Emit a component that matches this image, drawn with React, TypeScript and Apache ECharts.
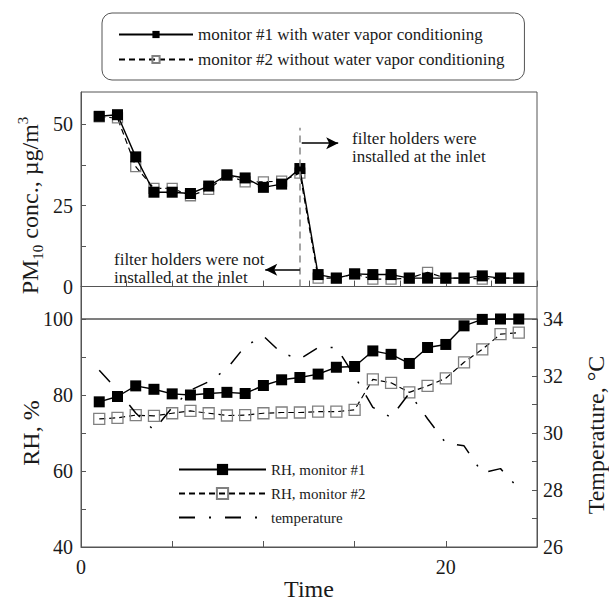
import React, { useEffect, useRef } from 'react';
import * as echarts from 'echarts';

const times = [1, 2, 3, 4, 5, 6, 7, 8, 9, 10, 11, 12, 13, 14, 15, 16, 17, 18, 19, 20, 21, 22, 23, 24];
const pmMonitor1 = [52.5, 53.0, 40.0, 29.1, 29.1, 28.7, 31.0, 34.4, 33.5, 30.6, 31.6, 36.4, 3.7, 2.6, 3.9, 3.7, 3.7, 2.6, 2.6, 2.6, 2.6, 3.3, 2.6, 2.6];
const pmMonitor2 = [52.3, 52.0, 37.0, 30.3, 30.3, 28.0, 30.0, 34.4, 32.3, 32.3, 32.5, 35.0, 2.6, 2.6, 3.9, 2.3, 2.3, 2.6, 4.4, 2.6, 2.6, 2.3, 2.6, 2.6];
const rhMonitor1 = [78.2, 79.6, 82.4, 81.5, 80.3, 80.0, 80.4, 80.7, 80.4, 82.5, 84.0, 84.6, 85.5, 87.3, 87.5, 91.6, 90.7, 88.3, 92.5, 93.3, 98.2, 99.9, 100, 100];
const rhMonitor2 = [73.7, 74.0, 74.7, 74.5, 75.2, 75.8, 75.2, 74.6, 74.7, 75.2, 75.4, 75.4, 75.6, 75.6, 76.1, 84.1, 83.2, 80.7, 82.4, 84.4, 88.6, 92.0, 96.0, 96.4];
const temperature = [32.2, 31.5, 30.7, 30.1, 30.9, 31.5, 31.8, 32.25, 33.05, 33.4, 32.8, 32.6, 33.0, 33.0, 32.0, 30.9, 30.55, 31.4, 30.5, 29.65, 29.55, 28.6, 28.75, 28.05];
const pmTickValues = [0, 12.5, 25, 37.5, 50];
const pmLabelValues = [0, 25, 50];
const filterChangeTime = 12;

const SERIF = '"Liberation Serif", "Times New Roman", serif';
const TXT = '#1a1a1a';
const AX = '#555';

const pairs = (ys: number[]) => times.map((t, i) => [t, ys[i]]);

export default function App() {
  const ref = useRef<HTMLDivElement>(null);
  useEffect(() => {
    if (!ref.current) return;
    const chart = echarts.init(ref.current, undefined, { renderer: 'svg', width: 609, height: 603 });
    const axisLine = { show: true, lineStyle: { color: AX, width: 1 } };
    const label = { color: TXT, fontFamily: SERIF, fontSize: 20 };
    const nameStyle = { color: TXT, fontFamily: SERIF, fontSize: 24 };
    const filled = { color: '#000', borderColor: '#000', borderWidth: 0 };
    const open = { color: 'transparent', borderColor: '#808080', borderWidth: 1.3 };
    chart.setOption({
      animation: false,
      backgroundColor: '#fff',
      grid: [
        { left: 81, top: 92, right: 72, bottom: 284, show: true, borderColor: AX, borderWidth: 1 },
        { left: 81, top: 319, right: 72, bottom: 56, show: true, borderColor: AX, borderWidth: 1 },
      ],
      legend: [
        {
          data: ['monitor #1 with water vapor conditioning', 'monitor #2 without water vapor conditioning'],
          orient: 'vertical',
          left: 102,
          top: 13,
          padding: [13, 20, 12, 16],
          itemWidth: 74,
          itemHeight: 9,
          itemGap: 8,
          borderColor: AX,
          borderWidth: 1,
          borderRadius: 10,
          textStyle: { color: TXT, fontFamily: SERIF, fontSize: 17 },
        },
        {
          data: [
            'RH, monitor #1',
            'RH, monitor #2',
            { name: 'temperature', itemStyle: { color: 'transparent', borderWidth: 0, opacity: 0 } },
          ],
          orient: 'vertical',
          left: 178,
          top: 462,
          padding: 0,
          itemWidth: 87,
          itemHeight: 14,
          itemGap: 9,
          textStyle: { color: TXT, fontFamily: SERIF, fontSize: 15 },
        },
      ],
      xAxis: [
        {
          gridIndex: 0, type: 'value', min: 0, max: 25, interval: 2.5,
          axisLine, axisTick: { show: true, inside: true, length: 6, lineStyle: { color: AX } },
          axisLabel: { show: false }, splitLine: { show: false },
        },
        {
          gridIndex: 1, type: 'value', min: 0, max: 25, interval: 5,
          axisLine, axisTick: { show: true, inside: true, length: 6, lineStyle: { color: AX } },
          axisLabel: { ...label, margin: 10, formatter: (v: number) => (v === 0 || v === 20 ? String(v) : '') },
          splitLine: { show: false },
        },
      ],
      yAxis: [
        {
          gridIndex: 0, type: 'value', min: -10, max: 60,
          axisLine,
          axisTick: { show: true, inside: true, length: 5, customValues: pmTickValues, lineStyle: { color: AX } },
          axisLabel: { ...label, margin: 8, customValues: pmLabelValues },
          splitLine: { show: false },
          name: '{a|PM}{sub|10}{a| conc., µg/m}{sup|3}',
          nameLocation: 'middle', nameGap: 36, nameMoveOverlap: false,
          nameTextStyle: {
            ...nameStyle,
            rich: {
              a: { fontFamily: SERIF, fontSize: 24, color: TXT, lineHeight: 30 },
              sub: { fontFamily: SERIF, fontSize: 15, color: TXT, lineHeight: 30, verticalAlign: 'bottom', padding: [10, 0, 0, 0] },
              sup: { fontFamily: SERIF, fontSize: 15, color: TXT, lineHeight: 30, verticalAlign: 'top', padding: [0, 0, 12, 0] },
            },
          },
        },
        {
          gridIndex: 1, type: 'value', min: 40, max: 100, interval: 10,
          axisLine,
          axisTick: { show: true, inside: true, length: 5, lineStyle: { color: AX } },
          axisLabel: { ...label, margin: 8, showMaxLabel: true, formatter: (v: number) => (v % 20 === 0 ? String(v) : '') },
          splitLine: { show: false },
          name: 'RH, %', nameLocation: 'middle', nameGap: 38, nameMoveOverlap: false, nameTextStyle: nameStyle,
        },
        {
          gridIndex: 1, type: 'value', min: 26, max: 34, interval: 1, position: 'right',
          axisLine,
          axisTick: { show: true, inside: true, length: 5, lineStyle: { color: AX } },
          axisLabel: { ...label, margin: 6, formatter: (v: number) => (v % 2 === 0 ? String(v) : '') },
          splitLine: { show: false },
        },
      ],
      series: [
        {
          name: 'monitor #2 without water vapor conditioning', type: 'line', xAxisIndex: 0, yAxisIndex: 0,
          data: pairs(pmMonitor2), symbol: 'rect', symbolSize: 10, showSymbol: true,
          itemStyle: open, lineStyle: { color: '#000', width: 1.2, type: [6, 4] }, z: 2,
        },
        {
          name: 'monitor #1 with water vapor conditioning', type: 'line', xAxisIndex: 0, yAxisIndex: 0,
          data: pairs(pmMonitor1), symbol: 'rect', symbolSize: 11, showSymbol: true,
          itemStyle: filled, lineStyle: { color: '#000', width: 1.4 }, z: 3,
          markLine: {
            silent: true,
            symbol: ['none', 'none'],
            label: { show: false },
            lineStyle: { color: '#888', width: 1.5, type: [7, 5] },
            data: [
              [{ coord: [filterChangeTime, 0] }, { coord: [filterChangeTime, 49] }],
              [
                { coord: [filterChangeTime + 0.1, 44.2], lineStyle: { color: '#000', width: 1.5, type: 'solid' } },
                { coord: [filterChangeTime + 2.1, 44.2], symbol: 'arrow', symbolSize: [9, 12] },
              ],
              [
                { coord: [filterChangeTime, 5.2], lineStyle: { color: '#000', width: 1.5, type: 'solid' } },
                { coord: [filterChangeTime - 1.9, 5.2], symbol: 'arrow', symbolSize: [9, 12] },
              ],
            ],
          },
        },
        {
          name: 'RH, monitor #2', type: 'line', xAxisIndex: 1, yAxisIndex: 1,
          data: pairs(rhMonitor2), symbol: 'rect', symbolSize: 11, showSymbol: true,
          itemStyle: open, lineStyle: { color: '#000', width: 1.2, type: [6, 4] }, z: 2,
        },
        {
          name: 'RH, monitor #1', type: 'line', xAxisIndex: 1, yAxisIndex: 1,
          data: pairs(rhMonitor1), symbol: 'rect', symbolSize: 11, showSymbol: true,
          itemStyle: filled, lineStyle: { color: '#000', width: 1.4 }, z: 3,
        },
        {
          name: 'temperature', type: 'line', xAxisIndex: 1, yAxisIndex: 2,
          data: pairs(temperature), symbol: 'none', showSymbol: false,
          itemStyle: { color: '#000' },
          lineStyle: { color: '#000', width: 1.5, type: [16, 14, 2, 14] }, z: 4,
        },
      ],
      graphic: [
        {
          type: 'text', left: 352, top: 129, silent: true,
          style: { text: 'filter holders were\ninstalled at the inlet', fill: TXT, font: `17px ${SERIF}`, lineHeight: 18 },
        },
        {
          type: 'text', left: 114, top: 250, silent: true,
          style: { text: 'filter holders were not\ninstalled at the inlet', fill: TXT, font: `17px ${SERIF}`, lineHeight: 18 },
        },
        {
          type: 'text', x: 596, y: 435, rotation: Math.PI / 2, silent: true,
          style: { text: 'Temperature, °C', fill: TXT, font: `24px ${SERIF}`, align: 'center', verticalAlign: 'middle' },
        },
        {
          type: 'text', x: 309, y: 589, silent: true,
          style: { text: 'Time', fill: TXT, font: `24px ${SERIF}`, align: 'center', verticalAlign: 'middle' },
        },
      ],
    });
    return () => chart.dispose();
  }, []);
  return <div ref={ref} style={{ position: 'fixed', left: 0, top: 0, width: 609, height: 603 }} />;
}
